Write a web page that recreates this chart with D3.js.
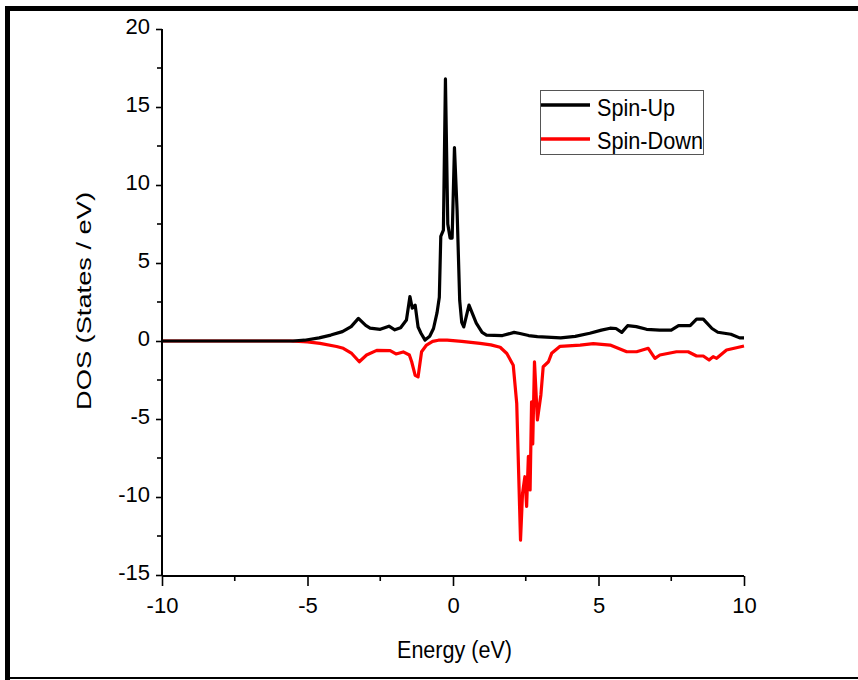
<!DOCTYPE html>
<html>
<head>
<meta charset="utf-8">
<script src="https://cdn.jsdelivr.net/npm/d3@7"></script>
<style>
  html, body { margin: 0; padding: 0; background: #fff; }
  svg { display: block; }
  text { font-family: "Liberation Sans", Arial, sans-serif; fill: #000; }
</style>
</head>
<body>
<svg id="chart" width="858" height="680"></svg>
<script>
// ---- data ----
const xTicks = [-10, -5, 0, 5, 10];
const xMinorTicks = [-7.5, -2.5, 2.5, 7.5];
const yTicks = [-15, -10, -5, 0, 5, 10, 15, 20];
const yMinorTicks = [-12.5, -7.5, -2.5, 2.5, 7.5, 12.5, 17.5];
const seriesNames = ["Spin-Up", "Spin-Down"];
const seriesColors = ["#000000", "#ff0000"];

const spinUpEnergy = [-10, -5.5, -5.1, -4.6, -4.2, -3.8, -3.5, -3.25, -3.0, -2.85, -2.5, -2.2, -2.0, -1.8, -1.6, -1.48, -1.4, -1.3, -1.2, -1.1, -0.96, -0.8, -0.67, -0.55, -0.47, -0.42, -0.33, -0.26, -0.18, -0.1, -0.03, 0.05, 0.14, 0.23, 0.3, 0.37, 0.55, 0.8, 1.0, 1.15, 1.7, 2.1, 2.3, 2.6, 2.9, 3.7, 4.2, 4.7, 5.1, 5.4, 5.6, 5.8, 6.0, 6.3, 6.65, 7.1, 7.5, 7.75, 8.15, 8.37, 8.6, 8.9, 9.1, 9.55, 9.85, 10];
const spinUpDOS = [0, 0, 0.05, 0.2, 0.38, 0.6, 0.92, 1.45, 1.0, 0.83, 0.75, 0.95, 0.72, 0.85, 1.35, 2.85, 2.1, 2.3, 0.9, 0.5, 0.06, 0.3, 0.8, 1.8, 2.8, 6.7, 7.1, 16.8, 7.5, 6.6, 6.6, 12.4, 8.4, 2.6, 1.2, 0.9, 2.3, 1.15, 0.55, 0.38, 0.35, 0.55, 0.48, 0.35, 0.28, 0.2, 0.3, 0.5, 0.7, 0.82, 0.8, 0.55, 0.98, 0.92, 0.75, 0.7, 0.7, 0.98, 0.98, 1.4, 1.4, 0.8, 0.56, 0.43, 0.2, 0.2];

const spinDownEnergy = [-10, -5.6, -5.0, -4.57, -4.0, -3.77, -3.48, -3.22, -2.97, -2.62, -2.16, -1.96, -1.71, -1.5, -1.42, -1.3, -1.2, -1.08, -0.91, -0.7, -0.5, -0.2, 0.3, 0.93, 1.3, 1.62, 1.85, 2.07, 2.19, 2.32, 2.39, 2.47, 2.53, 2.59, 2.65, 2.7, 2.74, 2.8, 2.9, 3.02, 3.1, 3.28, 3.39, 3.68, 4.37, 4.82, 5.4, 5.97, 6.31, 6.71, 6.94, 7.11, 7.68, 8.08, 8.37, 8.6, 8.8, 8.94, 9.06, 9.4, 9.74, 10];
const spinDownDOS = [0, 0, -0.06, -0.15, -0.35, -0.47, -0.8, -1.33, -0.9, -0.6, -0.62, -0.83, -0.7, -0.9, -1.33, -2.2, -2.3, -0.69, -0.26, -0.02, 0.05, 0.06, -0.02, -0.15, -0.25, -0.4, -0.8, -1.55, -4, -12.76, -9.76, -8.7, -10.6, -7.4, -9.55, -3.9, -6.6, -1.33, -5.06, -3.46, -1.65, -1.33, -0.79, -0.34, -0.26, -0.17, -0.26, -0.69, -0.69, -0.47, -1.11, -0.9, -0.69, -0.69, -0.96, -0.96, -1.22, -1.0, -1.11, -0.58, -0.43, -0.32];

// ---- drawing ----
const svg = d3.select("#chart");
const x = d3.scaleLinear().domain([-10, 10]).range([162, 744]);
const y = d3.scaleLinear().domain([-15, 20]).range([575, 29]);
const fmt = d => String(d);

// frame
svg.append("line").attr("x1", 5).attr("x2", 858).attr("y1", 8.5).attr("y2", 8.5)
  .attr("stroke", "#000").attr("stroke-width", 5);
svg.append("line").attr("x1", 7.5).attr("x2", 7.5).attr("y1", 6).attr("y2", 680)
  .attr("stroke", "#000").attr("stroke-width", 5);
svg.append("line").attr("x1", 5).attr("x2", 858).attr("y1", 678).attr("y2", 678)
  .attr("stroke", "#000").attr("stroke-width", 2);

// data lines
const line = d3.line().x(d => x(d[0])).y(d => y(d[1]));
const upData = spinUpEnergy.map((e, i) => [e, spinUpDOS[i]]);
const downData = spinDownEnergy.map((e, i) => [e, spinDownDOS[i]]);
svg.append("path").datum(downData).attr("d", line).attr("fill", "none")
  .attr("stroke", seriesColors[1]).attr("stroke-width", 3.2).attr("stroke-linejoin", "round");
svg.append("path").datum(upData).attr("d", line).attr("fill", "none")
  .attr("stroke", seriesColors[0]).attr("stroke-width", 3.2).attr("stroke-linejoin", "round");

// x axis
const xAxis = svg.append("g").attr("transform", "translate(0,576)")
  .call(d3.axisBottom(x).tickValues(xTicks).tickSize(10).tickPadding(7).tickFormat(fmt));
xAxis.select(".domain").attr("stroke-width", 2).attr("d", "M" + x(-10) + ",0H" + x(10));
xAxis.selectAll(".tick line").attr("stroke-width", 1.6);
xAxis.selectAll(".tick text").attr("font-size", 22).attr("font-family", "Liberation Sans, Arial, sans-serif")
  .attr("dy", "0.71em").attr("y", 21);
xAxis.selectAll(".minor").data(xMinorTicks).enter().append("line")
  .attr("x1", d => x(d)).attr("x2", d => x(d)).attr("y1", 0).attr("y2", 5)
  .attr("stroke", "#000").attr("stroke-width", 1.6);

// y axis
const yAxis = svg.append("g").attr("transform", "translate(162,0)")
  .call(d3.axisLeft(y).tickValues(yTicks).tickSize(6).tickPadding(7).tickFormat(fmt));
yAxis.select(".domain").attr("stroke-width", 2).attr("d", "M0," + y(-15) + "V" + y(20));
yAxis.selectAll(".tick line").attr("stroke-width", 1.6);
yAxis.selectAll(".tick text").attr("font-size", 22).attr("font-family", "Liberation Sans, Arial, sans-serif")
  .attr("x", -12).attr("dy", "0.2em");
yAxis.selectAll(".minor").data(yMinorTicks).enter().append("line")
  .attr("x1", 0).attr("x2", -5).attr("y1", d => y(d)).attr("y2", d => y(d))
  .attr("stroke", "#000").attr("stroke-width", 1.6);

// axis titles
svg.append("text").attr("x", 454.5).attr("y", 658).attr("text-anchor", "middle")
  .attr("font-size", 23).attr("textLength", 115).attr("lengthAdjust", "spacingAndGlyphs")
  .text("Energy (eV)");
svg.append("text").attr("transform", "translate(91,301) rotate(-90)").attr("text-anchor", "middle")
  .attr("font-size", 21).attr("textLength", 218).attr("lengthAdjust", "spacingAndGlyphs")
  .text("DOS (States / eV)");

// legend
const lg = svg.append("g");
lg.append("rect").attr("x", 540.5).attr("y", 90.5).attr("width", 163).attr("height", 64)
  .attr("fill", "#fff").attr("stroke", "#555").attr("stroke-width", 1);
const legendY = [105, 139];
const legendBase = [115.5, 149];
const legendW = [78, 106];
seriesNames.forEach((n, i) => {
  lg.append("line").attr("x1", 541).attr("x2", 590).attr("y1", legendY[i]).attr("y2", legendY[i])
    .attr("stroke", seriesColors[i]).attr("stroke-width", 3.5);
  lg.append("text").attr("x", 597).attr("y", legendBase[i]).attr("font-size", 24)
    .attr("textLength", legendW[i]).attr("lengthAdjust", "spacingAndGlyphs").text(n);
});
</script>
</body>
</html>
